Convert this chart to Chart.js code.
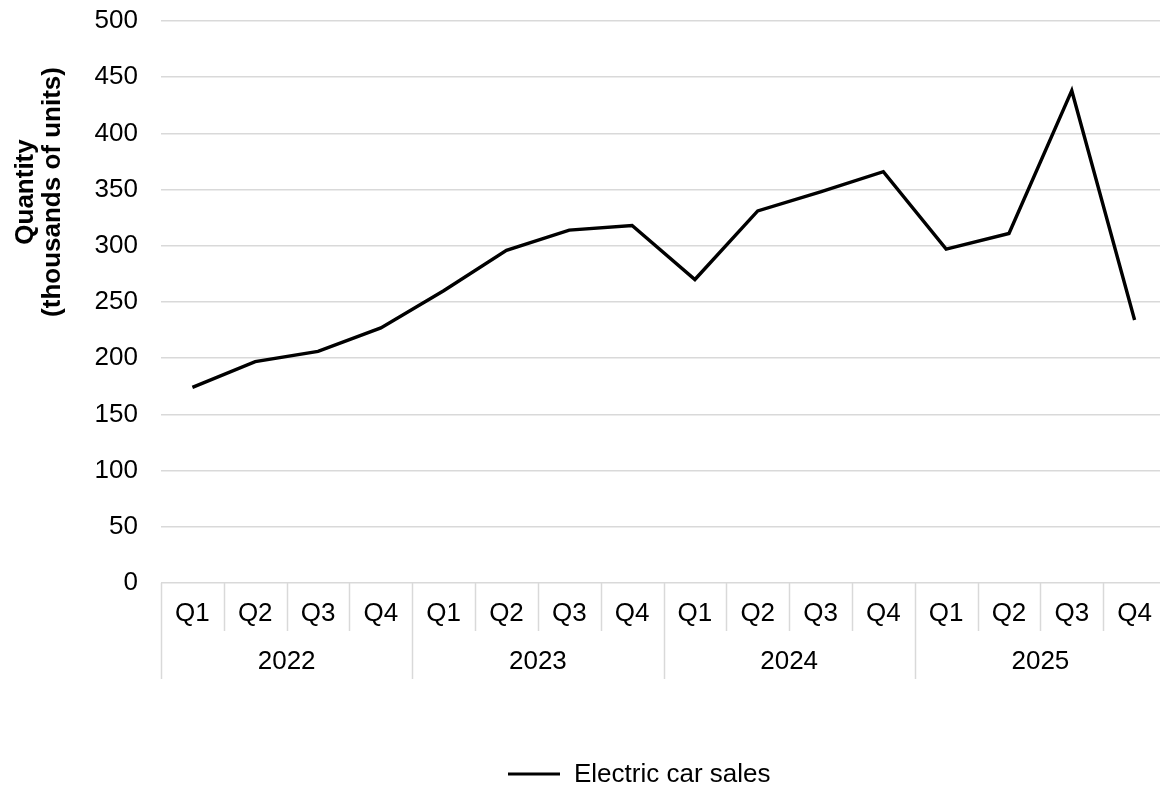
<!DOCTYPE html>
<html>
<head>
<meta charset="utf-8">
<title>Electric car sales</title>
<script src="https://cdn.jsdelivr.net/npm/chart.js@4.4.1/dist/chart.umd.min.js"></script>
<style>
  html, body { margin: 0; padding: 0; background: #fff; }
  #wrap { width: 1160px; height: 789px; overflow: hidden; position: relative; }
  canvas { display: block; }
</style>
</head>
<body>
<div id="wrap"><canvas id="chart" width="1180" height="789"></canvas></div>
<script>
// Quarterly electric car sales, thousands of units
const years = ['2022', '2023', '2024', '2025'];
const quarters = ['Q1', 'Q2', 'Q3', 'Q4'];
const sales2022 = [174, 197, 206, 227];
const sales2023 = [260, 296, 314, 318];
const sales2024 = [270, 331, 348, 366];
const sales2025 = [297, 311, 438, 234];
const yTicks = [0, 50, 100, 150, 200, 250, 300, 350, 400, 450, 500];
const seriesName = 'Electric car sales';
const yTitle = ['Quantity', '(thousands of units)'];

const labels = [];
years.forEach(y => quarters.forEach(q => labels.push(q + ' ' + y)));
const values = [].concat(sales2022, sales2023, sales2024, sales2025);

const FONT = '"Liberation Sans", Arial, Helvetica, sans-serif';
const GRID = '#d9d9d9';

// Two-level category axis, y-axis title and legend
const decorations = {
  id: 'decorations',
  afterDraw(chart) {
    const ctx = chart.ctx;
    const x = chart.scales.x;
    const area = chart.chartArea;
    const n = labels.length;
    const bottom = area.bottom;
    const px = i => x.getPixelForValue(i);
    const edge = i => {
      if (i <= 0) return px(0) - (px(1) - px(0)) / 2;
      if (i >= n) return px(n - 1) + (px(n - 1) - px(n - 2)) / 2;
      return (px(i - 1) + px(i)) / 2;
    };

    ctx.save();
    ctx.strokeStyle = GRID;
    ctx.lineWidth = 1.5;
    for (let i = 0; i <= n; i++) {
      const xx = Math.round(edge(i)) + 0.5;
      const isYear = i % quarters.length === 0;
      ctx.beginPath();
      ctx.moveTo(xx, bottom);
      ctx.lineTo(xx, isYear ? bottom + 96 : bottom + 48);
      ctx.stroke();
    }

    ctx.fillStyle = '#000';
    ctx.font = '26px ' + FONT;
    ctx.textAlign = 'center';
    ctx.textBaseline = 'middle';
    for (let i = 0; i < n; i++) {
      ctx.fillText(quarters[i % quarters.length], px(i), bottom + 31);
    }
    years.forEach((y, k) => {
      const a = edge(k * quarters.length);
      const b = edge((k + 1) * quarters.length);
      ctx.fillText(y, (a + b) / 2, bottom + 79);
    });

    // y-axis title
    ctx.save();
    ctx.translate(0, 192);
    ctx.rotate(-Math.PI / 2);
    ctx.font = 'bold 26px ' + FONT;
    ctx.textAlign = 'center';
    ctx.textBaseline = 'middle';
    ctx.fillText(yTitle[0], 0, 26);
    ctx.fillText(yTitle[1], 0, 53);
    ctx.restore();

    // legend
    const ds = chart.data.datasets[0];
    ctx.strokeStyle = ds.borderColor;
    ctx.lineWidth = 3;
    ctx.beginPath();
    ctx.moveTo(508, 774);
    ctx.lineTo(560, 774);
    ctx.stroke();
    ctx.font = '26px ' + FONT;
    ctx.textAlign = 'left';
    ctx.textBaseline = 'middle';
    ctx.fillText(ds.label, 574, 775);
    ctx.restore();
  }
};

new Chart(document.getElementById('chart'), {
  type: 'line',
  data: {
    labels: labels,
    datasets: [{
      label: seriesName,
      data: values,
      borderColor: '#000000',
      backgroundColor: '#000000',
      borderWidth: 3.4,
      pointRadius: 0,
      pointHoverRadius: 0,
      tension: 0,
      fill: false
    }]
  },
  options: {
    responsive: false,
    animation: false,
    events: [],
    layout: { padding: { left: 0, right: 14, top: 21, bottom: 206 } },
    plugins: {
      legend: { display: false },
      tooltip: { enabled: false }
    },
    scales: {
      x: {
        type: 'category',
        display: false,
        offset: true
      },
      y: {
        min: 0,
        max: 500,
        afterFit(scale) { scale.width = 161; },
        afterBuildTicks(scale) { scale.ticks = yTicks.map(v => ({ value: v })); },
        border: { display: false },
        grid: {
          color: GRID,
          lineWidth: 1.5,
          drawTicks: true,
          tickLength: 23,
          tickColor: 'rgba(0,0,0,0)'
        },
        ticks: {
          color: '#000',
          padding: 0,
          font: { family: FONT, size: 26 }
        }
      }
    }
  },
  plugins: [decorations]
});
</script>
</body>
</html>
